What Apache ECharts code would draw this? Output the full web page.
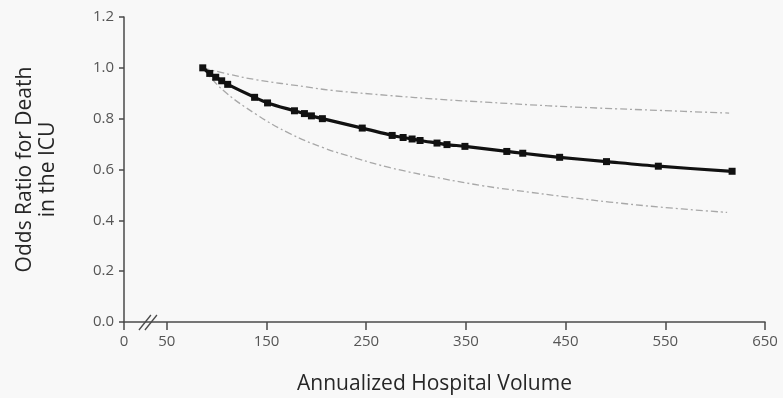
<!DOCTYPE html>
<html>
<head>
<meta charset="utf-8">
<script src="https://cdn.jsdelivr.net/npm/echarts@6/dist/echarts.min.js"></script>
<style>
  html, body { margin: 0; padding: 0; background: #f8f8f8; }
  #chart { width: 783px; height: 398px; }
</style>
</head>
<body>
<div id="chart"></div>
<script>
// Annualized hospital volume (x) and odds ratio for death in the ICU (y)
const volume = [86, 93, 99, 105, 111, 138, 151, 178, 188, 195, 206, 246, 276, 287, 296, 304, 321, 331, 349, 391, 407, 444, 491, 543, 617];
const oddsRatio = [1.0, 0.978, 0.963, 0.949, 0.935, 0.884, 0.862, 0.831, 0.82, 0.811, 0.80, 0.763, 0.734, 0.726, 0.72, 0.714, 0.704, 0.698, 0.691, 0.671, 0.664, 0.648, 0.631, 0.613, 0.593];

// 95% confidence bounds
const upperVolume = [86, 113, 140, 190, 216, 274, 324, 374, 431, 481, 547, 614];
const upperCI = [1.0, 0.974, 0.953, 0.925, 0.911, 0.891, 0.876, 0.864, 0.851, 0.842, 0.832, 0.822];
const lowerVolume = [86, 106, 140, 173, 206, 241, 274, 324, 367, 394, 461, 494, 545, 612];
const lowerCI = [1.0, 0.913, 0.816, 0.742, 0.687, 0.643, 0.607, 0.566, 0.536, 0.521, 0.487, 0.472, 0.452, 0.431];

// Axis ticks; the first x tick sits at the broken-axis origin and reads "0"
const xAxisStart = 7;
const xTicks = [7, 50, 150, 250, 350, 450, 550, 650];
const yTicks = [0, 0.2, 0.4, 0.6, 0.8, 1.0, 1.2];

const zip = (a, b) => a.map((v, i) => [v, b[i]]);

const chart = echarts.init(document.getElementById('chart'));
const font = '"Open Sans", "Noto Sans", sans-serif';
const axisColor = '#4a4a4a';

chart.setOption({
  backgroundColor: '#f8f8f8',
  animation: false,
  grid: { left: 124, right: 18, top: 17, bottom: 76, outerBoundsMode: 'none' },
  xAxis: {
    type: 'value',
    min: xAxisStart,
    max: 650,
    name: 'Annualized Hospital Volume',
    nameLocation: 'middle',
    nameGap: 52,
    nameTextStyle: { fontFamily: font, fontSize: 21, color: '#262626', padding: [0, 20, 0, 0] },
    axisLine: { show: true, lineStyle: { color: axisColor, width: 1.5 } },
    axisTick: { show: true, customValues: xTicks, length: 8, lineStyle: { color: axisColor, width: 1.5 } },
    axisLabel: {
      customValues: xTicks,
      formatter: v => (v === xAxisStart ? '0' : String(v)),
      fontFamily: font, fontSize: 15, color: '#555', margin: 12
    },
    splitLine: { show: false }
  },
  yAxis: {
    type: 'value',
    min: 0,
    max: 1.2,
    name: 'Odds Ratio for Death\nin the ICU',
    nameLocation: 'middle',
    nameGap: 64,
    nameTextStyle: { fontFamily: font, fontSize: 21, color: '#262626', lineHeight: 23 },
    axisLine: { show: true, lineStyle: { color: axisColor, width: 1.5 } },
    axisTick: { show: true, customValues: yTicks, length: 5, lineStyle: { color: axisColor, width: 1.5 } },
    axisLabel: {
      customValues: yTicks,
      formatter: v => v.toFixed(1),
      fontFamily: font, fontSize: 15, color: '#555', margin: 10
    },
    splitLine: { show: false }
  },
  series: [
    {
      type: 'line',
      data: zip(upperVolume, upperCI),
      smooth: 0.4,
      symbol: 'none',
      lineStyle: { color: '#a8a8a8', width: 1.3, type: [7, 3, 2, 3] },
      z: 2
    },
    {
      type: 'line',
      data: zip(lowerVolume, lowerCI),
      smooth: 0.4,
      symbol: 'none',
      lineStyle: { color: '#a8a8a8', width: 1.3, type: [7, 3, 2, 3] },
      z: 2
    },
    {
      type: 'line',
      data: zip(volume, oddsRatio),
      smooth: 0.3,
      symbol: 'rect',
      symbolSize: 7,
      showAllSymbol: true,
      lineStyle: { color: '#111', width: 3.2 },
      itemStyle: { color: '#111' },
      z: 3
    }
  ]
});

// Axis-break marks drawn across the x axis between 0 and 50
function drawBreak() {
  const p = chart.convertToPixel({ gridIndex: 0 }, [31, 0]);
  const mk = dx => ({
    type: 'line',
    shape: { x1: p[0] + dx - 6, y1: p[1] + 8, x2: p[0] + dx + 6, y2: p[1] - 7 },
    style: { stroke: axisColor, lineWidth: 1.3 },
    z: 10
  });
  chart.setOption({ graphic: [mk(-3), mk(3)] });
}
drawBreak();
</script>
</body>
</html>
